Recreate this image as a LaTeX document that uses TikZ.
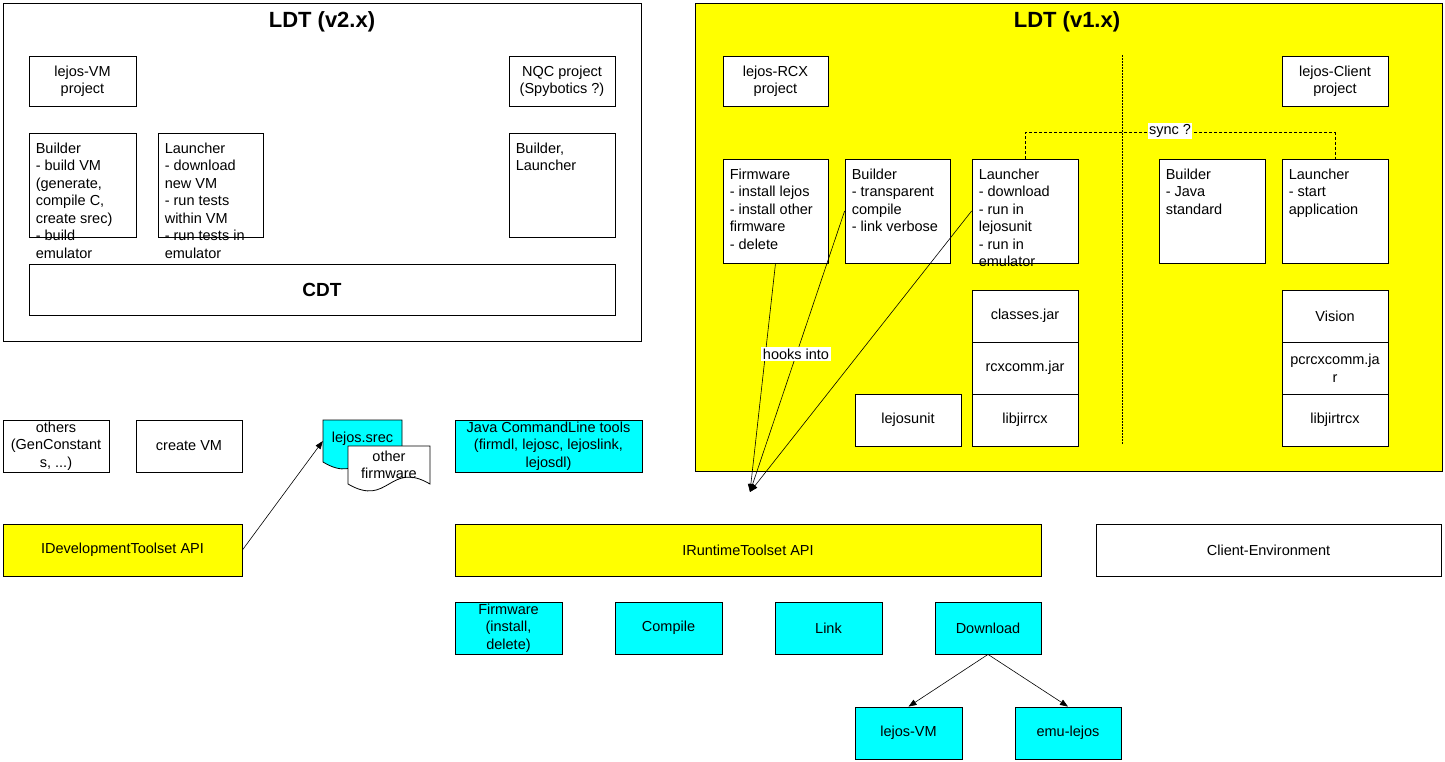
\documentclass[tikz,border=0pt]{standalone}
\usepackage{fontspec}
\setmainfont{Liberation Sans}
\usetikzlibrary{arrows.meta,calc}
\definecolor{ylw}{RGB}{255,255,0}
\definecolor{cyn}{RGB}{0,255,255}
\newcommand\myfont{\fontsize{14.5}{17.5}\selectfont}
\tikzset{
  sz/.style 2 args={minimum width=#1pt, minimum height=#2pt},
  box/.style={draw, line width=0.8pt, fill=white, inner sep=1pt, align=center, font=\myfont},
  ybox/.style={box, fill=ylw},
  cbox/.style={box, fill=cyn},
  panel/.style={draw, line width=0.9pt, inner sep=0pt},
  tl/.style={label={[anchor=north west, inner sep=0pt, align=left, font=\myfont, xshift=7pt, yshift=-10pt]north west:{#1}}},
  title/.style={font=\fontsize{22}{26}\selectfont\bfseries},
  tag/.style={fill=white, inner sep=1.5pt, font=\myfont},
  conn/.style={line width=0.6pt},
  arr/.style={conn, -{Triangle[length=8pt,width=6pt]}},
}
\begin{document}
\begin{tikzpicture}[x=1pt,y=-1pt]
\useasboundingbox (0,0) rectangle (1445,761);
% panels
\node[panel, fill=white, sz={638}{338}] (v2) at (322,172) {};
\node[title] (v2t) at (322,22) {LDT (v2.x)};
\node[panel, fill=ylw, sz={747}{468}] (v1) at (1068.5,237) {};
\node[title] (v1t) at (1067,22) {LDT (v1.x)};

% LDT v2 content
\node[box, sz={107}{50}] (vmproj) at (82.5,81) {lejos-VM\\project};
\node[box, sz={106}{50}] (nqc) at (562,81) {NQC project\\(Spybotics ?)};
\node[box, sz={107}{104}, tl={Builder\\- build VM\\(generate,\\compile C,\\create srec)\\- build\\emulator}] (bld2) at (82.5,185) {};
\node[box, sz={105}{104}, tl={Launcher\\- download\\new VM\\- run tests\\within VM\\- run tests in\\emulator}] (lau2) at (210.5,185) {};
\node[box, sz={106}{104}, tl={Builder,\\Launcher}] (bl2) at (562,185) {};
\node[box, sz={586}{51}, font=\fontsize{19}{23}\selectfont\bfseries] (cdt) at (322,289.5) {CDT};

% LDT v1 content
\node[box, sz={105}{50}] (rcx) at (775.5,81) {lejos-RCX\\project};
\node[box, sz={106}{50}] (client) at (1335,81) {lejos-Client\\project};
\coordinate (dtop) at (1122,55);
\coordinate (dbot) at (1122,445);
\draw[line width=0.6pt, dash pattern=on 1.5pt off 1.5pt] (dtop) -- (dbot);
\node[box, sz={105}{104}, tl={Firmware\\- install lejos\\- install other\\firmware\\- delete}] (fw) at (775.5,211) {};
\node[box, sz={105}{104}, tl={Builder\\- transparent\\compile\\- link verbose}] (bld1) at (897.5,211) {};
\node[box, sz={106}{104}, tl={Launcher\\- download\\- run in\\lejosunit\\- run in\\emulator}] (lau1) at (1025,211) {};
\node[box, sz={106}{104}, tl={Builder\\- Java\\standard}] (bldj) at (1212,211) {};
\node[box, sz={106}{104}, tl={Launcher\\- start\\application}] (lauc) at (1335,211) {};
\draw[conn, dash pattern=on 3pt off 2pt] (lau1.north) -- ++(0,-26) -| (lauc.north);
\node[tag] (sync) at (1170,131) {sync ?};

\node[box, sz={106}{52}] (classes) at (1025,316) {classes.jar};
\node[box, sz={106}{52}] (rcxcomm) at (1025,368) {rcxcomm.jar};
\node[box, sz={106}{52}] (libjir) at (1025,420) {libjirrcx};
\node[box, sz={106}{52}] (lejosunit) at (908,420) {lejosunit};
\node[box, sz={106}{52}] (vision) at (1335,316) {Vision};
\node[box, sz={106}{52}] (pcrcx) at (1335,368) {pcrcxcomm.ja\\r};
\node[box, sz={106}{52}] (libjirt) at (1335,420) {libjirtrcx};

% lower left
\node[box, sz={106}{52}] (others) at (56,446) {others\\(GenConstant\\s, ...)};
\node[box, sz={106}{52}] (createvm) at (189,446) {create VM};
\filldraw[fill=cyn, line width=0.8pt] (323,420) -- (402,420) -- (402,462) .. controls (362.5,438) and (362.5,486) .. (323,462) -- cycle;
\node[inner sep=0pt, sz={79}{42}, font=\myfont, text depth=8pt] (srec) at (362.5,441) {lejos.srec};
\filldraw[fill=white, line width=0.8pt] (348,446) -- (430,446) -- (430,484) .. controls (389,460) and (389,508) .. (348,484) -- cycle;
\node[inner sep=0pt, sz={82}{38}, font=\myfont, align=center] (ofw) at (389,465) {other\\firmware};
\node[cbox, sz={187}{52}] (java) at (548.5,446) {Java CommandLine tools\\(firmdl, lejosc, lejoslink,\\lejosdl)};

% APIs
\node[ybox, sz={239}{52}] (idev) at (122.5,550) {IDevelopmentToolset API};
\node[ybox, sz={586}{52}] (irt) at (748,550) {IRuntimeToolset API};
\node[box, sz={345}{52}] (cenv) at (1268.5,550) {Client-Environment};

\node[cbox, sz={107}{52}] (fwc) at (508.5,628) {Firmware\\(install,\\delete)};
\node[cbox, sz={107}{52}] (compile) at (668.5,628) {Compile};
\node[cbox, sz={107}{52}] (link) at (828.5,628) {Link};
\node[cbox, sz={106}{52}] (dl) at (988,628) {Download};
\node[cbox, sz={107}{52}] (vm) at (908.5,733) {lejos-VM};
\node[cbox, sz={106}{52}] (emu) at (1068,733) {emu-lejos};

% connectors
\coordinate (hk) at (750,492);
\draw[arr] (fw.south) -- (hk);
\draw[arr] (bld1.west) -- (hk);
\draw[arr] (lau1.west) -- (hk);
\node[tag] (hooks) at (796,354) {hooks into};
\draw[arr] (idev.east) -- (srec.west);
\draw[arr] (dl.south) -- (vm.north);
\draw[arr] (dl.south) -- (emu.north);
\end{tikzpicture}
\end{document}
